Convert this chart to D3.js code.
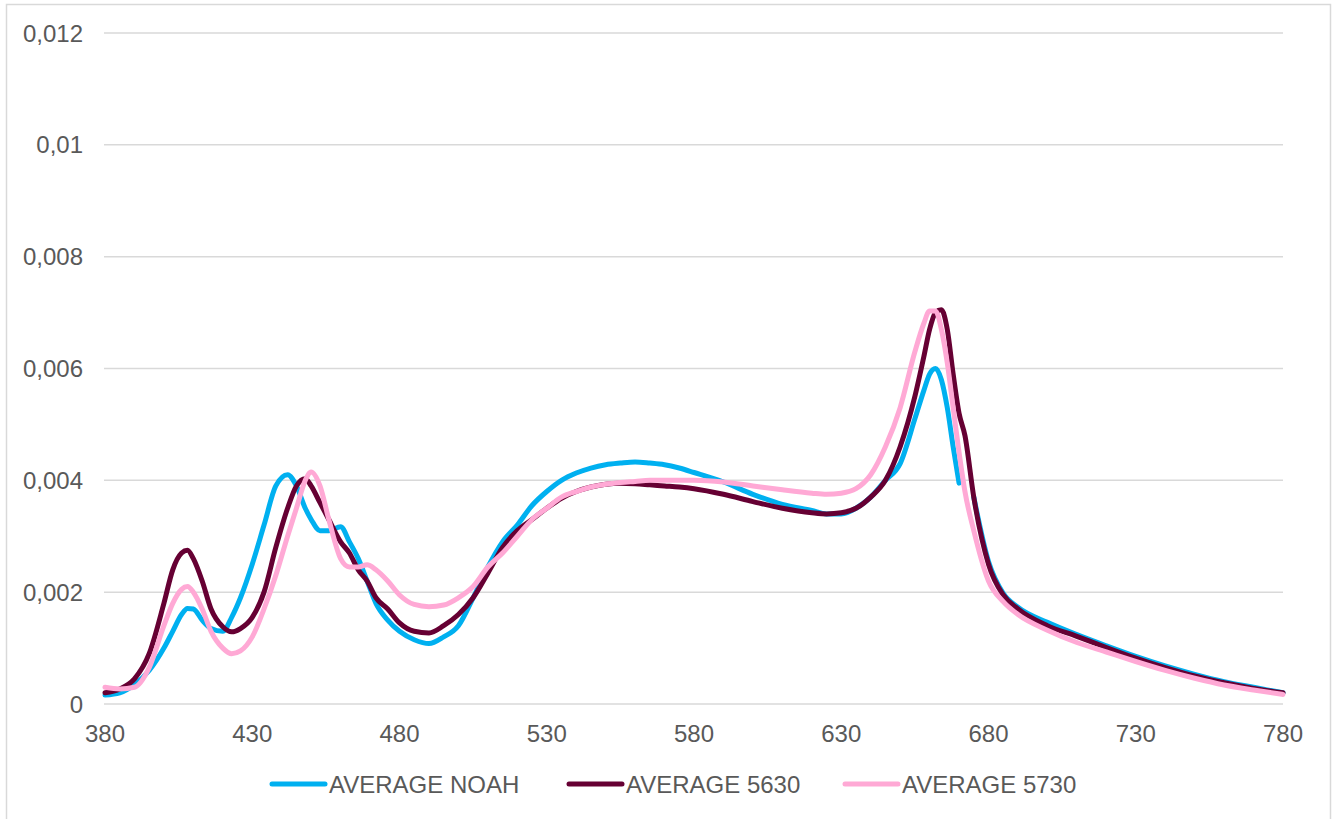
<!DOCTYPE html>
<html>
<head>
<meta charset="utf-8">
<script src="https://cdn.jsdelivr.net/npm/d3@7"></script>
<style>
body { margin: 0; background: #fff; }
text { font-family: "Liberation Sans", Arial, sans-serif; fill: #595959; }
</style>
</head>
<body>
<div class="container"></div>
<script>
// wavelengths (nm)
var waves = [380,385,390,395,400,403,406,408,410,413,416,420,423,426,430,434,438,442,445,448,
	450,453,456,460,463,466,469,472,476,480,485,490,495,500,505,510,515,520,525,530,
	535,540,545,550,555,560,565,570,575,580,590,600,610,620,625,630,635,640,645,650,
	655,658,660,662,664,666,668,670,672,675,680,685,690,700,710,720,730,740,750,760,770,780];

var noah = [0.00016,0.0002,0.00035,0.0006,0.001,0.0013,0.0016,0.00171,0.0017,0.0015,
	0.00135,0.0013,0.00155,0.0019,0.0025,0.0032,0.0039,0.0041,0.0039,0.0035,
	0.0033,0.0031,0.0031,0.00317,0.0029,0.0026,0.0022,0.0018,0.0015,0.0013,
	0.00115,0.00108,0.0012,0.0014,0.0019,0.00245,0.0029,0.0032,0.00355,0.0038,
	0.004,0.00413,0.00422,0.00428,0.00431,0.00433,0.00431,0.00428,0.00422,0.00414,
	0.00397,0.00375,0.00357,0.00346,0.0034,0.0034,0.0035,0.0037,0.004,0.0043,
	0.0051,0.0056,0.0059,0.006,0.0058,0.0053,0.0046,0.00395,null,0.0037,
	0.00255,0.00198,0.00173,0.00146,0.00124,0.00104,0.00085,0.00068,0.00053,0.0004,
	0.0003,0.0002];

var s5630 = [0.0002,0.00027,0.00045,0.0009,0.0018,0.0024,0.0027,0.00275,0.0026,0.0022,
	0.0017,0.00138,0.00129,0.00135,0.00155,0.002,0.0028,0.0035,0.0039,0.00403,
	0.0039,0.0036,0.0033,0.0029,0.0027,0.0024,0.0022,0.0019,0.0017,0.00145,
	0.0013,0.00127,0.0014,0.0016,0.0019,0.00234,0.0028,0.0031,0.0033,0.0035,
	0.00368,0.0038,0.00388,0.00393,0.00395,0.00394,0.00392,0.0039,0.00388,0.00385,
	0.00375,0.00362,0.0035,0.00342,0.0034,0.00342,0.0035,0.0037,0.004,0.0046,
	0.0055,0.0062,0.0067,0.007,0.00705,0.0067,0.0059,0.0052,0.0048,0.0037,
	0.0025,0.00195,0.0017,0.0014,0.00121,0.00101,0.00082,0.00065,0.0005,0.00038,
	0.00028,0.0002];

var s5730 = [0.0003,0.00027,0.0003,0.00065,0.0014,0.0018,0.00205,0.0021,0.002,0.0017,
	0.0013,0.001,0.0009,0.00095,0.0012,0.0017,0.0023,0.003,0.0035,0.004,
	0.00415,0.0039,0.0033,0.0026,0.00245,0.00245,0.00249,0.0024,0.0022,0.00195,
	0.00178,0.00174,0.00177,0.0019,0.0021,0.00245,0.0027,0.003,0.0033,0.0035,
	0.0037,0.0038,0.00388,0.00393,0.00396,0.00398,0.004,0.004,0.004,0.004,
	0.00397,0.0039,0.00383,0.00377,0.00375,0.00377,0.00385,0.0041,0.0046,0.0053,
	0.0063,0.0068,0.00703,0.00703,0.0067,0.0061,0.0053,0.0045,0.0038,0.0031,
	0.0022,0.00183,0.0016,0.00132,0.0011,0.00093,0.00076,0.0006,0.00046,0.00034,
	0.00025,0.00017];

var seriesNames = ["AVERAGE NOAH", "AVERAGE 5630", "AVERAGE 5730"];
var seriesColors = ["#00b0f0", "#660033", "#ffa9d5"];
var xTicks = [380,430,480,530,580,630,680,730,780];
var yTicks = [0,0.002,0.004,0.006,0.008,0.01,0.012];

var W = 1337, H = 819;
var svg = d3.select(".container").append("svg")
	.attr("width", W)
	.attr("height", H);

// chart border
svg.append("rect")
	.attr("x", 6.5).attr("y", 4.5)
	.attr("width", 1324).attr("height", 840)
	.style("fill", "none")
	.style("stroke", "#d9d9d9")
	.style("stroke-width", 1.5);

var x = d3.scaleLinear().domain([380, 780]).range([105, 1283]);
var y = d3.scaleLinear().domain([0, 0.012]).range([704, 33]);

// gridlines
svg.selectAll(".grid").data(yTicks).enter()
	.append("line")
	.attr("x1", 104).attr("x2", 1283)
	.attr("y1", function(d) { return y(d); })
	.attr("y2", function(d) { return y(d); })
	.style("stroke", "#d9d9d9")
	.style("stroke-width", 1.5);

function fmt(v) { return String(+v.toFixed(3)).replace(".", ","); }

// y labels
svg.selectAll(".ylab").data(yTicks).enter()
	.append("text")
	.attr("x", 83)
	.attr("y", function(d) { return y(d) + 8.5; })
	.attr("text-anchor", "end")
	.style("font-size", "24px")
	.text(fmt);

// x labels
svg.selectAll(".xlab").data(xTicks).enter()
	.append("text")
	.attr("x", function(d) { return x(d); })
	.attr("y", 742)
	.attr("text-anchor", "middle")
	.style("font-size", "24px")
	.text(function(d) { return d; });

var line = d3.line()
	.defined(function(d) { return d[1] !== null; })
	.x(function(d) { return x(d[0]); })
	.y(function(d) { return y(d[1]); })
	.curve(d3.curveMonotoneX);

var allSeries = [noah, s5630, s5730];
allSeries.forEach(function(vals, i) {
	svg.append("path")
		.datum(waves.map(function(w, j) { return [w, vals[j]]; }))
		.attr("d", line)
		.style("fill", "none")
		.style("stroke", seriesColors[i])
		.style("stroke-width", 5)
		.style("stroke-linejoin", "round")
		.style("stroke-linecap", "round");
});

// legend
var legX = [270, 567, 843];
seriesNames.forEach(function(name, i) {
	svg.append("line")
		.attr("x1", legX[i] + 2).attr("x2", legX[i] + 55)
		.attr("y1", 784).attr("y2", 784)
		.style("stroke", seriesColors[i])
		.style("stroke-width", 5)
		.style("stroke-linecap", "round");
	svg.append("text")
		.attr("x", legX[i] + 59)
		.attr("y", 792.5)
		.style("font-size", "24px")
		.text(name);
});
</script>
</body>
</html>
